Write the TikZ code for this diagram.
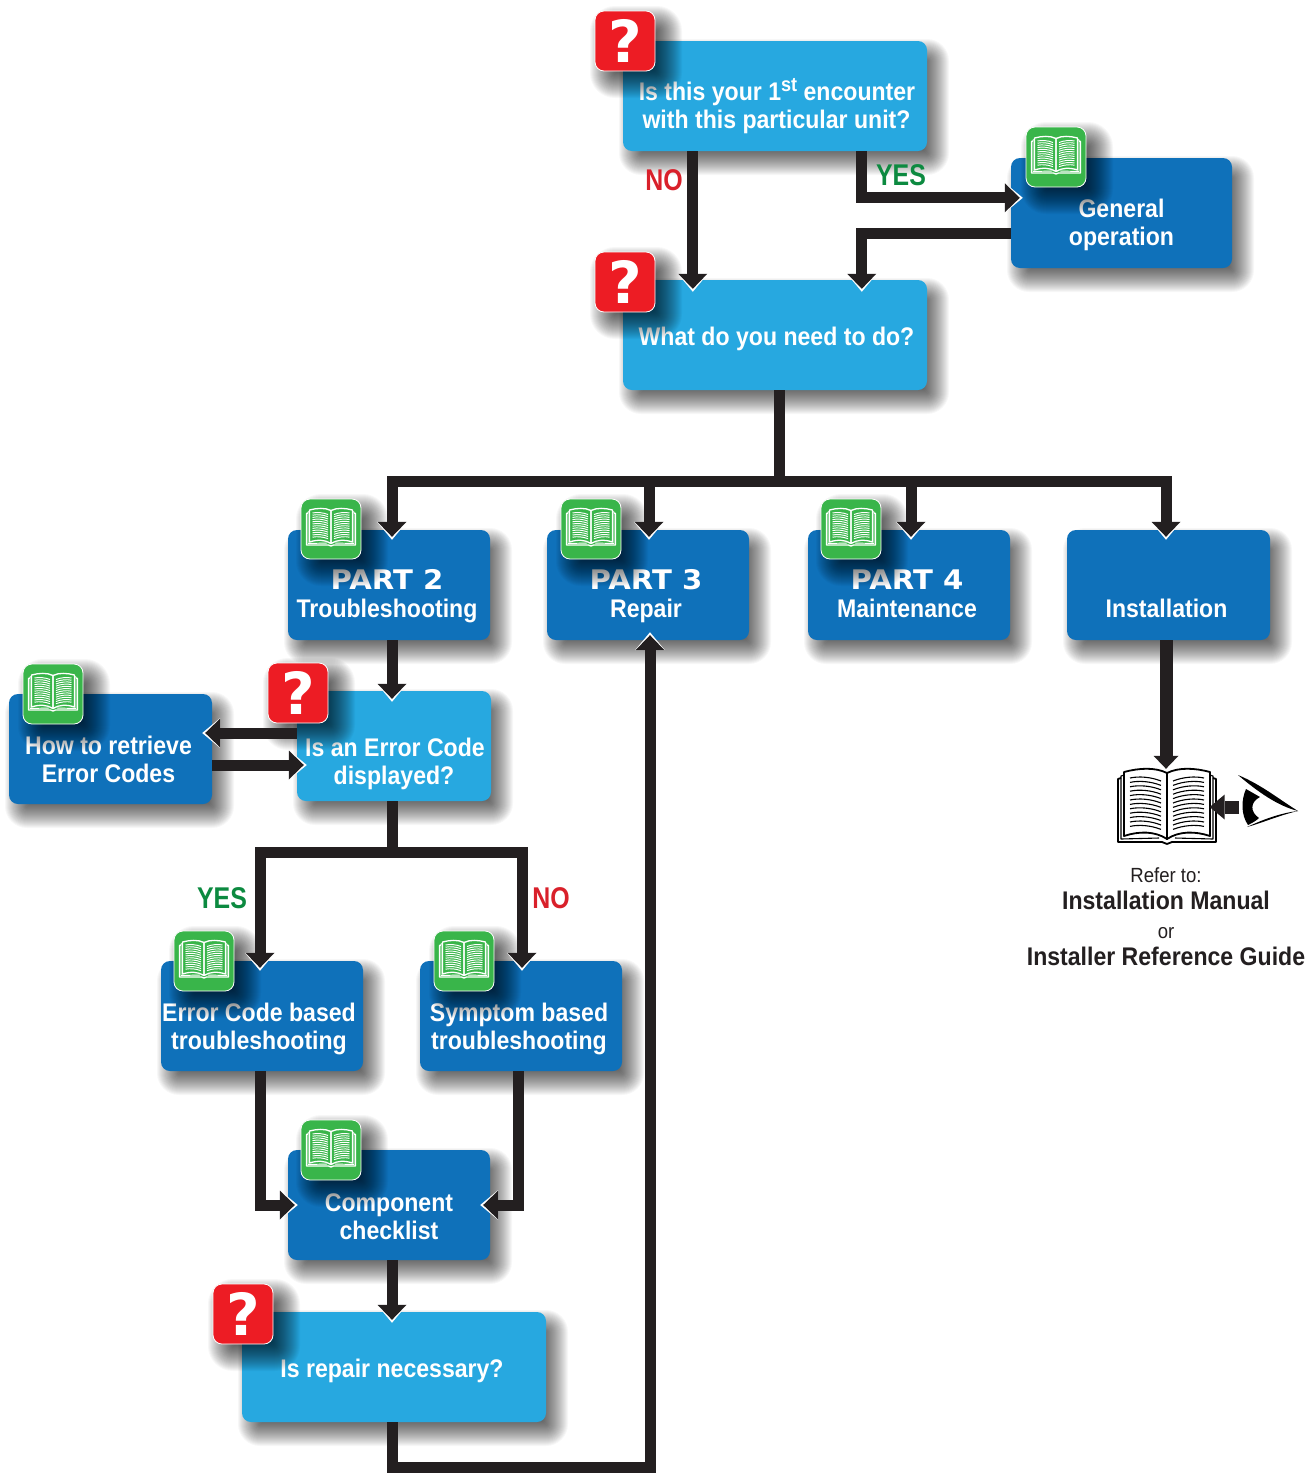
\documentclass[tikz,border=0pt]{standalone}
\usepackage{fontspec}
\setmainfont[FakeStretch=0.905]{Liberation Sans}
\newfontfamily\partfont[FakeStretch=1.08]{DejaVu Sans}
\newfontfamily\markfont{DejaVu Sans}
\newfontfamily\capfont[FakeStretch=0.83]{Liberation Sans}
\usetikzlibrary{arrows.meta,calc}
\definecolor{lightblue}{HTML}{27A8E0}
\definecolor{darkblue}{HTML}{0F71BA}
\definecolor{iconred}{HTML}{ED1C24}
\definecolor{icongreen}{HTML}{39B54A}
\definecolor{ink}{HTML}{231F20}
\definecolor{nored}{HTML}{D9202A}
\definecolor{yesgreen}{HTML}{0C8A40}
\tikzset{
  flowbox/.style={rounded corners=9pt,inner sep=0pt,text=white,align=center,
    font=\bfseries\fontsize{25.5}{28}\selectfont},
  iconbox/.style={rounded corners=9pt,inner sep=0pt,draw=white,line width=0.8pt,
    minimum width=60pt,minimum height=60pt},
  flow/.style={draw=ink,line width=11pt,shorten >=3pt,
    -{Triangle[width=29pt,length=15pt,line width=0pt]},
    preaction={draw=white,line width=11pt,shorten >=0pt,
      -{Triangle[width=30pt,length=18pt,line width=0pt]}}},
  plainflow/.style={draw=ink,line width=11pt},
  caption/.style={inner sep=0pt,anchor=base,font=\capfont\bfseries\fontsize{30}{30}\selectfont}
}
\newcommand\nudge{\hspace*{-4pt}}
\newcommand\softshadow[7]{% x0 y0 x1 y1 dx dy radius
  \foreach \r in {-#7,...,#7}{
    \pgfmathsetmacro\rc{max(2,9+\r)}
    \fill[black,opacity=.03,rounded corners=\rc pt]
      ({#1+#5-\r},{#2+#6-\r}) rectangle ({#3+#5+\r},{#4+#6+\r});
  }}
\newcommand\flownode[8]{% name x0 y0 x1 y1 colour last-baseline-offset text
  \pgfmathsetmacro\nw{#4-#2}\pgfmathsetmacro\nh{#5-#3}
  \pgfmathsetmacro\cx{(#2+#4)/2}\pgfmathsetmacro\cy{(#3+#5)/2}
  \pgfmathsetmacro\th{49+#7}\pgfmathsetmacro\td{51-#7}
  \node[flowbox,fill=#6,minimum width=\nw pt,minimum height=\nh pt,
        text height=\th pt,text depth=\td pt] (#1) at (\cx,\cy) {#8};}
\newcommand\qicon[3]{% name x y (top-left)
  \softshadow{#2}{#3}{#2+60}{#3+60}{11}{11}{16}
  \node[iconbox,fill=iconred,text=white,text height=51pt,text depth=9pt,
        font=\markfont\bfseries\fontsize{58}{58}\selectfont] (#1) at ({#2+30},{#3+30}) {?};}
\newcommand\bookdraw[6]{% colour x y scale thick thin
  \begin{scope}[shift={(#2,#3)},scale=#4,draw=#1,line join=round]
    \foreach \s in {1,-1}{
      \begin{scope}[xscale=\s]
        \draw[line width=#5pt] (0,-33) .. controls (-12,-39) and (-28,-38) .. (-43,-34)
          -- (-43,30) .. controls (-28,25) and (-12,25) .. (0,33) -- cycle;
        \draw[line width=#6pt] (-43,-31) -- (-46,-30) -- (-46,33) -- (-8,32);
        \draw[line width=#5pt] (-46,-28) -- (-49,-27) -- (-49,36) -- (-5,36) -- (0,38);
        \foreach \i in {0,...,11}{
          \pgfmathsetmacro\ly{-28+4.4*\i}
          \draw[line width=#6pt] (-37,\ly) .. controls (-28,\ly-2) and (-16,\ly-1) .. (-6,\ly+3);
        }
      \end{scope}
    }
  \end{scope}}
\newcommand\bicon[3]{% name x y (top-left)
  \softshadow{#2}{#3}{#2+60}{#3+60}{11}{11}{16}
  \node[iconbox,fill=icongreen] (#1) at ({#2+30},{#3+30}) {};
  \bookdraw{white}{#2+30}{#3+28}{0.5}{1.3}{0.95}}
\begin{document}
\begin{tikzpicture}[x=1pt,y=-1pt]
\useasboundingbox (0,0) rectangle (1306,1473);
\fill[white] (0,0) rectangle (1306,1473);
% box shadows
\foreach \a/\b/\c/\d in {623/41/927/151,623/280/927/390,1011/158/1232/268,
  288/530/490/640,547/530/749/640,808/530/1010/640,1067/530/1270/640,
  9/694/212/804,297/691/491/801,161/961/363/1071,420/961/622/1071,
  288/1150/490/1260,242/1312/546/1422}{
  \softshadow{\a}{\b}{\c}{\d}{9}{11}{13}
}
% boxes
\flownode{first}{623}{41}{927}{151}{lightblue}{33}{\hspace*{4pt}Is this your 1\raisebox{9pt}{\fontsize{20}{20}\selectfont st} encounter\\\hspace*{3pt}with this particular unit?}
\flownode{need}{623}{280}{927}{390}{lightblue}{11}{\hspace*{3pt}What do you need to do?}
\flownode{general}{1011}{158}{1232}{268}{darkblue}{33}{General\\operation}
\flownode{part2}{288}{530}{490}{640}{darkblue}{33}{\nudge{\partfont\fontsize{27}{28}\selectfont PART 2}\\\nudge Troubleshooting}
\flownode{part3}{547}{530}{749}{640}{darkblue}{33}{\nudge{\partfont\fontsize{27}{28}\selectfont PART 3}\\\nudge Repair}
\flownode{part4}{808}{530}{1010}{640}{darkblue}{33}{\nudge{\partfont\fontsize{27}{28}\selectfont PART 4}\\\nudge Maintenance}
\flownode{install}{1067}{530}{1270}{640}{darkblue}{33}{\nudge Installation}
\flownode{retrieve}{9}{694}{212}{804}{darkblue}{34}{\nudge How to retrieve\\\nudge Error Codes}
\flownode{errq}{297}{691}{491}{801}{lightblue}{39}{\hspace*{2pt}Is an Error Code\\displayed?}
\flownode{errbased}{161}{961}{363}{1071}{darkblue}{34}{\hspace*{-6pt}Error Code based\\\hspace*{-6pt}troubleshooting}
\flownode{symbased}{420}{961}{622}{1071}{darkblue}{34}{\nudge Symptom based\\\nudge troubleshooting}
\flownode{check}{288}{1150}{490}{1260}{darkblue}{35}{Component\\checklist}
\flownode{repairq}{242}{1312}{546}{1422}{lightblue}{11}{\nudge Is repair necessary?}
% icons
\qicon{q1}{595}{11}
\qicon{q2}{595}{252}
\qicon{q3}{268}{663}
\qicon{q4}{213}{1284}
\bicon{b1}{1026}{127}
\bicon{b2}{301}{499}
\bicon{b3}{561}{499}
\bicon{b4}{821}{499}
\bicon{b5}{23}{664}
\bicon{b6}{174}{931}
\bicon{b7}{434}{931}
\bicon{b8}{301}{1120}
% connectors
\draw[flow] ([xshift=70pt]first.south west) -- ([xshift=70pt,yshift=-12pt]need.north west);
\draw[flow] ([xshift=239pt]first.south west) |- ([yshift=-40pt,xshift=12pt]general.north west);
\draw[flow] ([yshift=-20pt]general.west) -| ([xshift=239pt,yshift=-12pt]need.north west);
\coordinate (bus) at (need.south |- 0,481);
\draw[plainflow] ([xshift=4pt]need.south) -- ([xshift=4pt]bus);
\draw[flow] ([xshift=9pt]bus) -| ([xshift=3pt,yshift=-10pt]part2.north);
\draw[flow] ([xshift=-5pt]bus) -| ([xshift=1pt,yshift=-10pt]part3.north);
\draw[flow] (bus) -| ([xshift=2pt,yshift=-10pt]part4.north);
\draw[flow] ([xshift=-5pt]bus) -| ([xshift=-2.5pt,yshift=-10pt]install.north);
\draw[flow] ([xshift=3pt]part2.south) -- ([xshift=-2pt,yshift=-11pt]errq.north);
\draw[flow] ([yshift=13pt]errq.west) -- ([xshift=-10pt,yshift=16pt]retrieve.east);
\draw[flow] ([yshift=-16pt]retrieve.east) -- ([xshift=10pt,yshift=-19pt]errq.west);
\coordinate (split) at (errq.south |- 0,852);
\draw[plainflow] ([xshift=-2pt]errq.south) -- ([xshift=-2pt]split);
\draw[flow] ([xshift=-2pt]split) -| ([xshift=-2pt,yshift=-10pt]errbased.north);
\draw[flow] ([xshift=-2pt]split) -| ([xshift=1pt,yshift=-10pt]symbased.north);
\draw[flow] ([xshift=-2pt]errbased.south) |- ([xshift=10pt]check.west);
\draw[flow] ([xshift=-3pt]symbased.south) |- ([xshift=-10pt]check.east);
\draw[flow] ([xshift=3pt]check.south) -- ([xshift=-2pt,yshift=-11pt]repairq.north);
\coordinate (loop) at (repairq.south |- 0,1467);
\draw[flow] ([xshift=-2pt]repairq.south) -- ([xshift=-2pt]loop) -| ([xshift=2pt,yshift=8pt]part3.south);
% book and eye
\bookdraw{black}{1167}{806}{1}{1.8}{1.1}
\node[inner sep=0pt,minimum width=97pt,minimum height=72pt] (book) at (1167,807) {};
\coordinate (eyepoint) at (1239,807);
\draw[draw=ink,line width=13pt,-{Triangle[width=25pt,length=15pt,line width=0pt]}] (eyepoint) -- ([xshift=-6pt]book.east);
\draw[draw=ink,line width=13pt,-{Triangle[width=25pt,length=13pt,line width=0pt]}] ([xshift=-2.5pt]install.south) -- ([xshift=-1pt,yshift=2pt]book.north);
\fill[black] (1238,775) .. controls (1262,785) and (1280,800) .. (1298,811)
  .. controls (1278,806) and (1258,792) .. cycle;
\fill[black] (1246,789) .. controls (1241,800) and (1241,815) .. (1248,825)
  .. controls (1252,823) and (1256,821) .. (1259,818)
  .. controls (1250,812) and (1250,802) .. (1260,797) -- cycle;
\fill[black] (1298,811) .. controls (1280,813) and (1262,820) .. (1247,827)
  .. controls (1262,823) and (1280,815) .. cycle;
% labels
\node[caption,text=nored] (nolabel) at (664,190) {NO};
\node[caption,text=yesgreen] (yeslabel) at (901,185) {YES};
\node[caption,text=yesgreen] (yeslabel2) at (222,908) {YES};
\node[caption,text=nored] (nolabel2) at (551,908) {NO};
\node[inner sep=0pt,anchor=base,text=ink,font=\fontsize{20.5}{28}\selectfont] (refer) at (1166,882) {Refer to:};
\node[inner sep=0pt,anchor=base,text=ink,font=\bfseries\fontsize{25.5}{28}\selectfont] (manual) at (1166,909) {Installation Manual};
\node[inner sep=0pt,anchor=base,text=ink,font=\fontsize{20.5}{28}\selectfont] (orword) at (1166,938) {or};
\node[inner sep=0pt,anchor=base,text=ink,font=\bfseries\fontsize{25.5}{28}\selectfont] (guide) at (1166,965) {Installer Reference Guide};
\end{tikzpicture}
\end{document}
